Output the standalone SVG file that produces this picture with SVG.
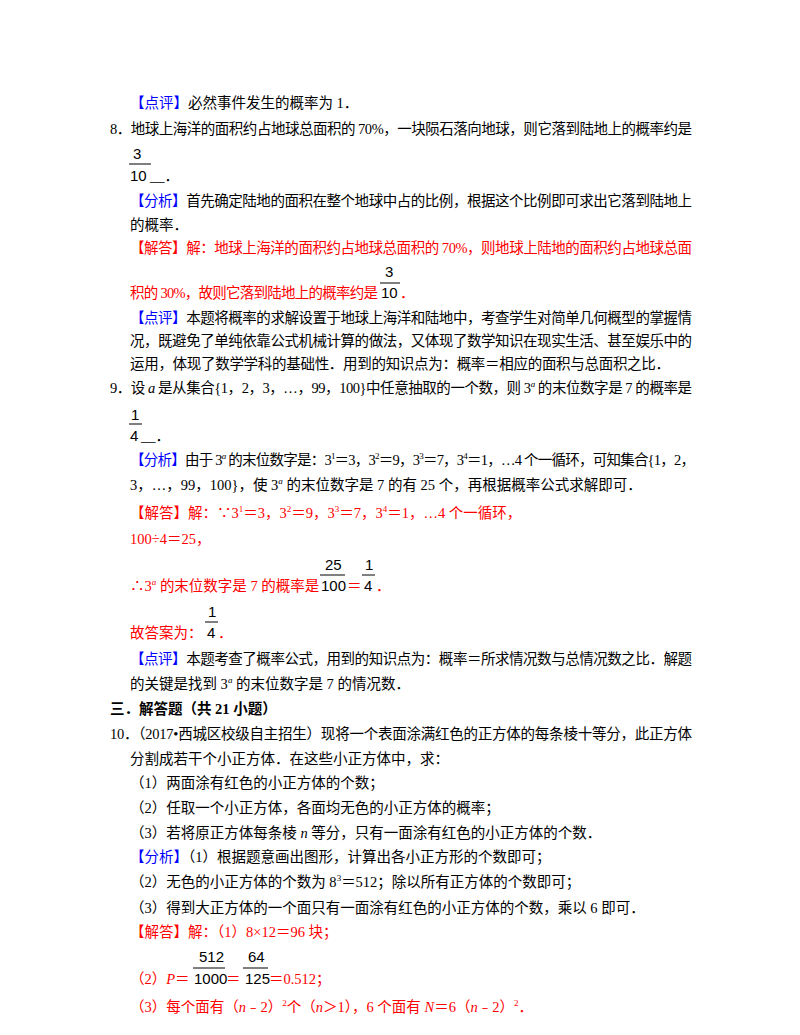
<svg xmlns="http://www.w3.org/2000/svg" width="800" height="1035" viewBox="0 0 800 1035">
<style>
text{font-family:"Liberation Serif","Noto Sans CJK SC",serif;font-size:14.5px;fill:#000}
.b{fill:#0000ff}.r{fill:#ff0000}.h{font-weight:bold}
.f{font-family:"Liberation Sans",sans-serif;font-size:15px;fill:#000}
line{stroke:#000;stroke-width:1}
</style>
<rect width="800" height="1035" fill="#fff"/>
<text x="130" y="108"><tspan class="b">【点评】</tspan>必然事件发生的概率为 1．</text>
<text x="110" y="134" textLength="582">8．地球上海洋的面积约占地球总面积的 70%，一块陨石落向地球，则它落到陆地上的概率约是</text>
<text class="f" x="133" y="159">3</text><line x1="129" y1="164" x2="151" y2="164"/><text class="f" x="130" y="181">10</text><text x="150" y="181">__．</text>
<text x="130" y="206" textLength="562"><tspan class="b">【分析】</tspan>首先确定陆地的面积在整个地球中占的比例，根据这个比例即可求出它落到陆地上</text>
<text x="130" y="230">的概率．</text>
<text x="130" y="253" textLength="562" class="r">【解答】解：地球上海洋的面积约占地球总面积的 70%，则地球上陆地的面积约占地球总面</text>
<text class="f" x="385" y="277">3</text><line x1="380" y1="283" x2="400" y2="283"/><text class="f" x="381" y="298">10</text>
<text x="130" y="298" class="r" textLength="248">积的 30%，故则它落到陆地上的概率约是</text><text x="400" y="298" class="r">．</text>
<text x="130" y="323" textLength="562"><tspan class="b">【点评】</tspan>本题将概率的求解设置于地球上海洋和陆地中，考查学生对简单几何概型的掌握情</text>
<text x="130" y="346" textLength="562">况，既避免了单纯依靠公式机械计算的做法，又体现了数学知识在现实生活、甚至娱乐中的</text>
<text x="130" y="369" textLength="540">运用，体现了数学学科的基础性．用到的知识点为：概率＝相应的面积与总面积之比．</text>
<text x="110" y="393" textLength="582">9．设 <tspan font-style="italic">a</tspan> 是从集合{1，2，3，…，99，100}中任意抽取的一个数，则 3<tspan font-size="9" dy="-6" font-style="italic">a</tspan><tspan dy="6"> 的末位数字是 7 的概率是</tspan></text>
<text class="f" x="131" y="420">1</text><line x1="129" y1="424" x2="142" y2="424"/><text class="f" x="130" y="441">4</text><text x="141" y="441">__．</text>
<text x="130" y="465" textLength="565"><tspan class="b">【分析】</tspan>由于 3<tspan font-size="9" dy="-6" font-style="italic">a</tspan><tspan dy="6"> 的末位数字是：3</tspan><tspan font-size="9" dy="-6">1</tspan><tspan dy="6">＝3，3</tspan><tspan font-size="9" dy="-6">2</tspan><tspan dy="6">＝9，3</tspan><tspan font-size="9" dy="-6">3</tspan><tspan dy="6">＝7，3</tspan><tspan font-size="9" dy="-6">4</tspan><tspan dy="6">＝1，…4 个一循环，可知集合{1，2，</tspan></text>
<text x="130" y="490">3，…，99，100}，使 3<tspan font-size="9" dy="-6" font-style="italic">a</tspan><tspan dy="6"> 的末位数字是 7 的有 25 个，再根据概率公式求解即可．</tspan></text>
<text x="130" y="518" class="r">【解答】解：∵3<tspan font-size="9" dy="-6">1</tspan><tspan dy="6">＝3，3</tspan><tspan font-size="9" dy="-6">2</tspan><tspan dy="6">＝9，3</tspan><tspan font-size="9" dy="-6">3</tspan><tspan dy="6">＝7，3</tspan><tspan font-size="9" dy="-6">4</tspan><tspan dy="6">＝1，…4 个一循环，</tspan></text>
<text x="130" y="544" class="r">100÷4＝25，</text>
<text x="130" y="591" class="r">∴3<tspan font-size="9" dy="-6" font-style="italic">a</tspan><tspan dy="6"> 的末位数字是 7 的概率是</tspan></text>
<text class="f" x="325" y="570">25</text><line x1="320" y1="575" x2="345" y2="575"/><text class="f" x="321" y="591">100</text>
<text x="347" y="591" class="r">＝</text>
<text class="f" x="365" y="570">1</text><line x1="362" y1="575" x2="375" y2="575"/><text class="f" x="364" y="591">4</text>
<text x="376" y="591" class="r">．</text>
<text x="130" y="638" class="r">故答案为：</text>
<text class="f" x="208" y="617">1</text><line x1="205" y1="622" x2="218" y2="622"/><text class="f" x="207" y="638">4</text>
<text x="218" y="638" class="r">．</text>
<text x="130" y="664" textLength="562"><tspan class="b">【点评】</tspan>本题考查了概率公式，用到的知识点为：概率＝所求情况数与总情况数之比．解题</text>
<text x="130" y="689">的关键是找到 3<tspan font-size="9" dy="-6" font-style="italic">a</tspan><tspan dy="6"> 的末位数字是 7 的情况数．</tspan></text>
<text x="110" y="714" class="h">三．解答题（共 21 小题）</text>
<text x="110" y="739" textLength="582">10．（2017•西城区校级自主招生）现将一个表面涂满红色的正方体的每条棱十等分，此正方体</text>
<text x="130" y="764">分割成若干个小正方体．在这些小正方体中，求：</text>
<text x="130" y="788">（1）两面涂有红色的小正方体的个数；</text>
<text x="130" y="813">（2）任取一个小正方体，各面均无色的小正方体的概率；</text>
<text x="130" y="838">（3）若将原正方体每条棱 <tspan font-style="italic">n</tspan> 等分，只有一面涂有红色的小正方体的个数．</text>
<text x="130" y="862"><tspan class="b">【分析】</tspan>（1）根据题意画出图形，计算出各小正方形的个数即可；</text>
<text x="130" y="887">（2）无色的小正方体的个数为 8<tspan font-size="9" dy="-6">3</tspan><tspan dy="6">＝512；除以所有正方体的个数即可；</tspan></text>
<text x="130" y="913">（3）得到大正方体的一个面只有一面涂有红色的小正方体的个数，乘以 6 即可．</text>
<text x="130" y="937" class="r">【解答】解：（1）8×12＝96 块；</text>
<text x="130" y="984" class="r">（2）<tspan font-style="italic">P</tspan>＝</text>
<text class="f" x="199" y="962">512</text><line x1="193" y1="968" x2="225" y2="968"/><text class="f" x="194" y="984">1000</text>
<text x="226" y="984" class="r">＝</text>
<text class="f" x="248" y="962">64</text><line x1="243" y1="968" x2="268" y2="968"/><text class="f" x="245" y="984">125</text>
<text x="269" y="984" class="r">＝0.512；</text>
<text x="130" y="1012" class="r">（3）每个面有（<tspan font-style="italic">n</tspan>﹣2）<tspan font-size="9" dy="-6">2</tspan><tspan dy="6">个（</tspan><tspan font-style="italic">n</tspan>＞1），6 个面有 <tspan font-style="italic">N</tspan>＝6（<tspan font-style="italic">n</tspan>﹣2）<tspan font-size="9" dy="-6">2</tspan><tspan dy="6">．</tspan></text>
</svg>
